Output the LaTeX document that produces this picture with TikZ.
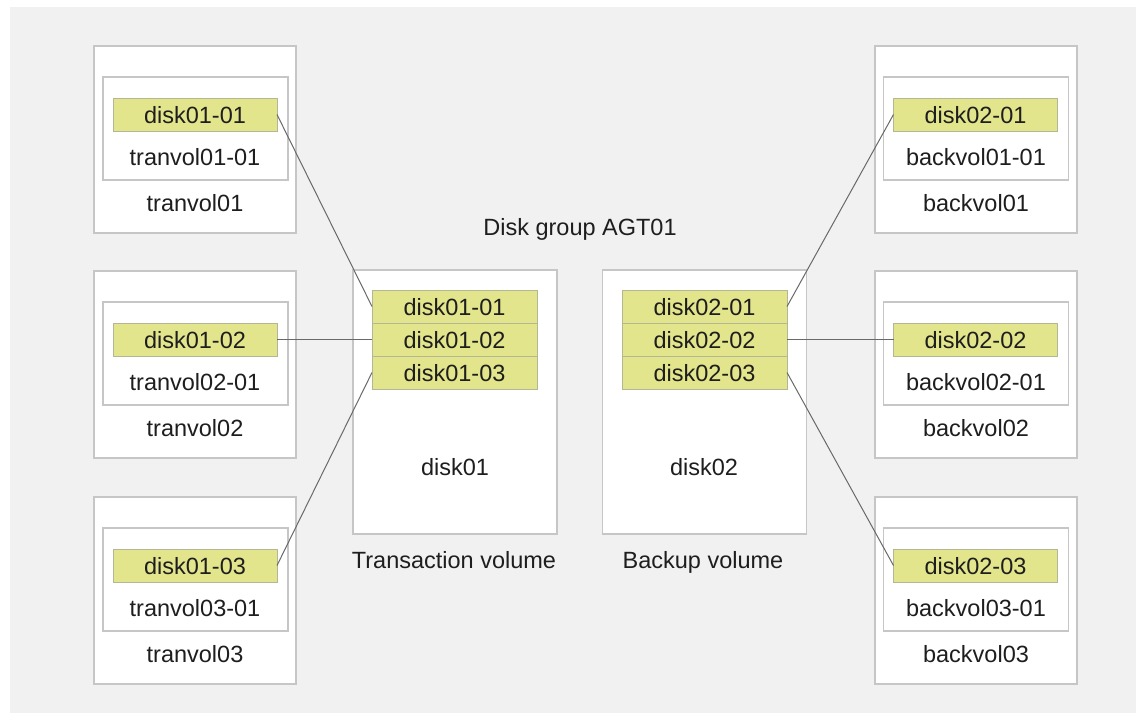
\documentclass[tikz,border=0pt]{standalone}
\usepackage{fontspec}
\setmainfont{Liberation Sans}
\usepackage{tikz}

\definecolor{bggray}{RGB}{241,241,241}
\definecolor{boxline}{RGB}{198,198,198}
\definecolor{cellfill}{RGB}{226,229,139}
\definecolor{cellline}{RGB}{180,183,150}
\definecolor{linkgray}{RGB}{105,105,105}
\definecolor{textgray}{RGB}{30,30,30}

\tikzset{
	volbox/.style={draw=boxline, fill=white, line width=1.3pt, inner sep=0pt, outer sep=0pt,
		minimum width=202pt, minimum height=187pt},
	subbox/.style={draw=boxline, fill=white, line width=1.3pt, inner sep=0pt, outer sep=0pt,
		minimum width=185pt, minimum height=103pt},
	diskbox/.style={draw=boxline, fill=white, line width=1.3pt, inner sep=0pt, outer sep=0pt,
		minimum width=204pt, minimum height=264pt},
	cell/.style={draw=cellline, fill=cellfill, line width=1pt, inner sep=0pt, outer sep=0pt,
		minimum width=164pt, minimum height=33pt, font=\lbl, text=textgray,
		text height=21pt, text depth=4pt},
	txt/.style={inner sep=0pt, font=\lbl, text=textgray, text height=21pt, text depth=4pt},
	link/.style={draw=linkgray, line width=1pt}
}
\newcommand{\lbl}{\fontsize{23.5}{28}\selectfont}

\begin{document}
\begin{tikzpicture}[x=1pt,y=-1pt]
	\useasboundingbox (0,0) rectangle (1136,713);
	\fill[bggray] (10,7) rectangle (1136,713);

	% transaction side
	\node[volbox] (tran1) at (195,139.5) {};
	\node[subbox] (tran1sub) at (195.5,128.5) {};
	\node[cell] (tran1disk) at (195,114.5) {disk01-01};
	\node[txt] at (195,157) {tranvol01-01};
	\node[txt] at (195,203) {tranvol01};

	\node[volbox] (tran2) at (195,364.5) {};
	\node[subbox] (tran2sub) at (195.5,353.5) {};
	\node[cell] (tran2disk) at (195,339.5) {disk01-02};
	\node[txt] at (195,382) {tranvol02-01};
	\node[txt] at (195,428) {tranvol02};

	\node[volbox] (tran3) at (195,590.5) {};
	\node[subbox] (tran3sub) at (195.5,579.5) {};
	\node[cell] (tran3disk) at (195,565.5) {disk01-03};
	\node[txt] at (195,608) {tranvol03-01};
	\node[txt] at (195,654) {tranvol03};

	% backup side
	\node[volbox] (back1) at (976,139.5) {};
	\node[subbox] (back1sub) at (976,128.5) {};
	\node[cell] (back1disk) at (975.5,114.5) {disk02-01};
	\node[txt] at (976,157) {backvol01-01};
	\node[txt] at (976,203) {backvol01};

	\node[volbox] (back2) at (976,364.5) {};
	\node[subbox] (back2sub) at (976,353.5) {};
	\node[cell] (back2disk) at (975.5,339.5) {disk02-02};
	\node[txt] at (976,382) {backvol02-01};
	\node[txt] at (976,428) {backvol02};

	\node[volbox] (back3) at (976,590.5) {};
	\node[subbox] (back3sub) at (976,579.5) {};
	\node[cell] (back3disk) at (975.5,565.5) {disk02-03};
	\node[txt] at (976,608) {backvol03-01};
	\node[txt] at (976,654) {backvol03};

	% disk group
	\node[txt] (group) at (580,227) {Disk group AGT01};

	\node[diskbox] (disk01) at (455,402) {};
	\node[cell, minimum width=165pt] (d0101) at (454.5,306.5) {disk01-01};
	\node[cell, minimum width=165pt] (d0102) at (454.5,339.5) {disk01-02};
	\node[cell, minimum width=165pt] (d0103) at (454.5,372.5) {disk01-03};
	\node[txt] at (455,467) {disk01};
	\node[txt] (tranlabel) at (454,560) {Transaction volume};

	\node[diskbox] (disk02) at (704.5,402) {};
	\node[cell, minimum width=165pt] (d0201) at (704.5,306.5) {disk02-01};
	\node[cell, minimum width=165pt] (d0202) at (704.5,339.5) {disk02-02};
	\node[cell, minimum width=165pt] (d0203) at (704.5,372.5) {disk02-03};
	\node[txt] at (704,467) {disk02};
	\node[txt] (backlabel) at (703,560) {Backup volume};

	% links
	\draw[link] (tran1disk.east) -- (d0101.west);
	\draw[link] (tran2disk.east) -- (d0102.west);
	\draw[link] (tran3disk.east) -- (d0103.west);
	\draw[link] (d0201.east) -- (back1disk.west);
	\draw[link] (d0202.east) -- (back2disk.west);
	\draw[link] (d0203.east) -- (back3disk.west);
\end{tikzpicture}
\end{document}
